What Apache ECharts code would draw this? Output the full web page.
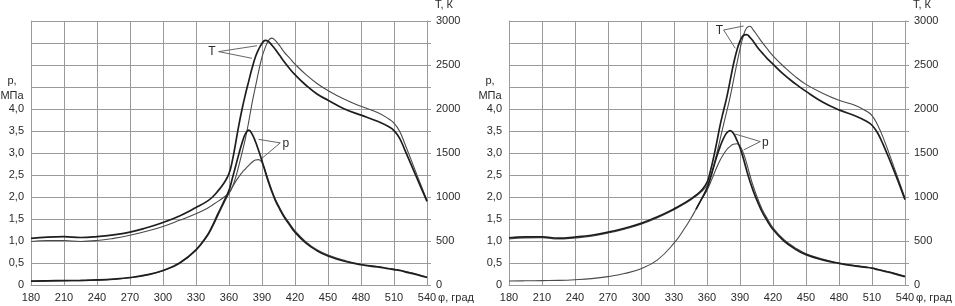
<!DOCTYPE html>
<html>
<head>
<meta charset="utf-8">
<script src="https://cdn.jsdelivr.net/npm/echarts@6/dist/echarts.min.js"></script>
<style>
    html, body { margin: 0; padding: 0; background: #fff; }
    #chart { width: 955px; height: 306px; }
</style>
</head>
<body>
<div id="chart"></div>
<script>
// crank angle, deg
const phi = [180, 195, 210, 225, 240, 255, 270, 285, 300, 315, 330, 340, 345, 350, 355,
    360, 363, 366, 369, 372, 375, 378, 381, 384, 387, 390, 393, 396, 399, 402, 406, 410,
    415, 420, 430, 440, 450, 465, 480, 495, 505, 510, 515, 520, 530, 540];

// left chart
const tLeftDark = [530, 545, 550, 540, 550, 570, 600, 650, 710, 785, 880, 950, 1000, 1070, 1150,
    1265, 1410, 1610, 1820, 2006, 2170, 2320, 2465, 2590, 2680, 2745, 2780, 2765, 2725, 2680, 2610, 2540,
    2460, 2390, 2270, 2170, 2100, 2000, 1930, 1860, 1800, 1755, 1670, 1530, 1240, 950];
const tLeftLight = [495, 505, 505, 495, 505, 530, 565, 610, 665, 735, 810, 870, 910, 950, 995,
    1045, 1115, 1220, 1360, 1510, 1670, 1860, 2070, 2250, 2430, 2590, 2700, 2780, 2805, 2780, 2720, 2650,
    2580, 2510, 2390, 2290, 2210, 2110, 2030, 1960, 1890, 1840, 1750, 1600, 1280, 960];
const pLeftDark = [0.09, 0.095, 0.1, 0.105, 0.115, 0.135, 0.17, 0.23, 0.33, 0.5, 0.8, 1.12, 1.35, 1.62, 1.88,
    2.15, 2.42, 2.7, 2.98, 3.24, 3.44, 3.52, 3.43, 3.26, 3.05, 2.82, 2.57, 2.33, 2.12, 1.93, 1.73, 1.55,
    1.37, 1.2, 0.95, 0.78, 0.66, 0.54, 0.46, 0.41, 0.37, 0.35, 0.33, 0.3, 0.24, 0.17];
const pLeftLight = [0.085, 0.09, 0.095, 0.1, 0.11, 0.13, 0.165, 0.225, 0.325, 0.49, 0.79, 1.1, 1.32, 1.58, 1.84,
    2.08, 2.22, 2.35, 2.46, 2.56, 2.64, 2.72, 2.79, 2.84, 2.85, 2.78, 2.6, 2.37, 2.15, 1.96, 1.76, 1.58,
    1.4, 1.23, 0.98, 0.8, 0.68, 0.56, 0.47, 0.42, 0.38, 0.36, 0.34, 0.31, 0.25, 0.18];

// right chart
const tRightDark = [535, 548, 548, 532, 545, 565, 600, 645, 700, 775, 865, 935, 975, 1020, 1075,
    1165, 1290, 1450, 1630, 1820, 1980, 2135, 2320, 2506, 2660, 2772, 2835, 2845, 2815, 2770, 2700, 2640,
    2570, 2510, 2390, 2290, 2200, 2080, 1990, 1920, 1860, 1815, 1730, 1600, 1300, 970];
const tRightLight = [522, 535, 537, 522, 535, 555, 590, 635, 690, 765, 855, 925, 965, 1010, 1060,
    1130, 1220, 1350, 1500, 1660, 1821, 1975, 2135, 2320, 2506, 2680, 2829, 2920, 2940, 2900, 2830, 2760,
    2680, 2605, 2480, 2370, 2280, 2180, 2100, 2040, 1975, 1925, 1820, 1680, 1340, 990];
const pRightDark = [null, null, null, null, null, null, null, null, null, null, null, null, null, 1.72, 1.95,
    2.2, 2.42, 2.68, 2.93, 3.15, 3.33, 3.46, 3.51, 3.45, 3.3, 3.12, 2.88, 2.61, 2.36, 2.14, 1.89, 1.67,
    1.45, 1.26, 1.0, 0.82, 0.69, 0.57, 0.49, 0.43, 0.4, 0.38, 0.35, 0.32, 0.26, 0.19];
const pRightLight = [0.09, 0.095, 0.1, 0.105, 0.12, 0.145, 0.19, 0.26, 0.37, 0.57, 0.95, 1.3, 1.5, 1.72, 1.95,
    2.15, 2.32, 2.5, 2.68, 2.84, 2.97, 3.08, 3.15, 3.2, 3.21, 3.16, 3.0, 2.77, 2.5, 2.25, 1.97, 1.73,
    1.5, 1.3, 1.03, 0.85, 0.71, 0.59, 0.5, 0.44, 0.41, 0.39, 0.36, 0.33, 0.27, 0.2];

// leader lines for the "T" and "p" callouts, in data units
const calloutTLeft = { at: [344.5, 2650], from: [350.6, 2652], to: [[385.5, 2719], [380.9, 2576]] };
const calloutPLeft = { at: [411.6, 3.22], from: [406.6, 3.23], to: [[386.9, 3.31], [390, 2.88]] };
const calloutTRight = { at: [371.2, 2890], from: [375.1, 2898], to: [[393.3, 2943], [385.7, 2690]] };
const calloutPRight = { at: [413, 3.24], from: [408.5, 3.26], to: [[385.7, 3.43], [393.3, 3.07]] };

const gridColor = '#9a9a9a';
const textColor = '#2a2a2a';
const font = '"Liberation Sans", Arial, sans-serif';
const darkLine = { color: '#1e1e1e', width: 1.7 };
const lightLine = { color: '#4a4a4a', width: 1.1 };

const chart = echarts.init(document.getElementById('chart'), null, { renderer: 'canvas' });

const xAxis = (grid) => ({
    type: 'value',
    gridIndex: grid,
    min: 180,
    max: 540,
    interval: 30,
    axisLine: { show: true, lineStyle: { color: gridColor } },
    axisTick: { show: false },
    axisLabel: { color: textColor, fontSize: 11, fontFamily: font, margin: 7 },
    splitLine: { show: true, lineStyle: { color: gridColor, width: 1 } }
});

const pAxis = (grid) => ({
    type: 'value',
    gridIndex: grid,
    position: 'left',
    min: 0,
    max: 6,
    interval: 0.5,
    axisLine: { show: true, lineStyle: { color: gridColor } },
    axisTick: { show: false },
    axisLabel: {
        color: textColor, fontSize: 11, fontFamily: font, margin: 7,
        formatter: (v) => v > 4 ? '' : (v === 0 ? '0' : v.toFixed(1).replace('.', ','))
    },
    splitLine: { show: true, lineStyle: { color: gridColor, width: 1 } }
});

const tAxis = (grid) => ({
    type: 'value',
    gridIndex: grid,
    position: 'right',
    min: 0,
    max: 3000,
    interval: 250,
    axisLine: { show: true, lineStyle: { color: gridColor } },
    axisTick: { show: true, length: 4, lineStyle: { color: gridColor } },
    axisLabel: {
        color: textColor, fontSize: 11, fontFamily: font, margin: 9,
        formatter: (v) => v % 500 === 0 ? String(v) : ''
    },
    splitLine: { show: false }
});

const pairs = (values) => phi.map((x, i) => [x, values[i]]);

const callout = (c) => ({
    symbol: ['none', 'none'],
    silent: true,
    animation: false,
    label: { show: false },
    lineStyle: { color: '#555', width: 0.9, type: 'solid' },
    data: c.to.map(end => [{ coord: c.from }, { coord: end }])
});

const calloutText = (c, text) => ({
    symbol: 'rect',
    symbolSize: 1,
    silent: true,
    animation: false,
    itemStyle: { color: 'transparent' },
    label: { show: true, position: 'inside', formatter: text, color: textColor, fontSize: 12, fontFamily: font },
    data: [{ coord: c.at }]
});

const line = (name, x, y, values, style, extra) => Object.assign({
    name: name,
    type: 'line',
    xAxisIndex: x,
    yAxisIndex: y,
    data: pairs(values),
    showSymbol: false,
    smooth: 0.45,
    lineStyle: style,
    itemStyle: { color: style.color },
    z: style === darkLine ? 3 : 2
}, extra || {});

chart.setOption({
    animation: false,
    backgroundColor: '#fff',
    grid: [
        { left: 31, top: 21, width: 396, height: 264 },
        { left: 509, top: 21, width: 396, height: 264 }
    ],
    xAxis: [xAxis(0), xAxis(1)],
    yAxis: [pAxis(0), tAxis(0), pAxis(1), tAxis(1)],
    series: [
        line('T2 left', 0, 1, tLeftLight, lightLine, { markLine: callout(calloutTLeft), markPoint: calloutText(calloutTLeft, 'T') }),
        line('p2 left', 0, 0, pLeftLight, lightLine, { markLine: callout(calloutPLeft), markPoint: calloutText(calloutPLeft, 'p') }),
        line('T1 left', 0, 1, tLeftDark, darkLine),
        line('p1 left', 0, 0, pLeftDark, darkLine),
        line('T2 right', 1, 3, tRightLight, lightLine, { markLine: callout(calloutTRight), markPoint: calloutText(calloutTRight, 'T') }),
        line('p2 right', 1, 2, pRightLight, lightLine, { markLine: callout(calloutPRight), markPoint: calloutText(calloutPRight, 'p') }),
        line('T1 right', 1, 3, tRightDark, darkLine),
        line('p1 right', 1, 2, pRightDark, darkLine)
    ],
    graphic: [0, 478].flatMap(dx => [
        { type: 'text', x: 12 + dx, y: 81, style: { text: 'p,', fill: textColor, font: '11px ' + font, textAlign: 'center', textVerticalAlign: 'middle' } },
        { type: 'text', x: 12 + dx, y: 96, style: { text: 'МПа', fill: textColor, font: '11px ' + font, textAlign: 'center', textVerticalAlign: 'middle' } },
        { type: 'text', x: 435 + dx, y: 5, style: { text: 'T, К', fill: textColor, font: '11px ' + font, textAlign: 'left', textVerticalAlign: 'middle' } },
        { type: 'text', x: 438 + dx, y: 298, style: { text: 'φ, град', fill: textColor, font: '11px ' + font, textAlign: 'left', textVerticalAlign: 'middle' } }
    ])
});
</script>
</body>
</html>
